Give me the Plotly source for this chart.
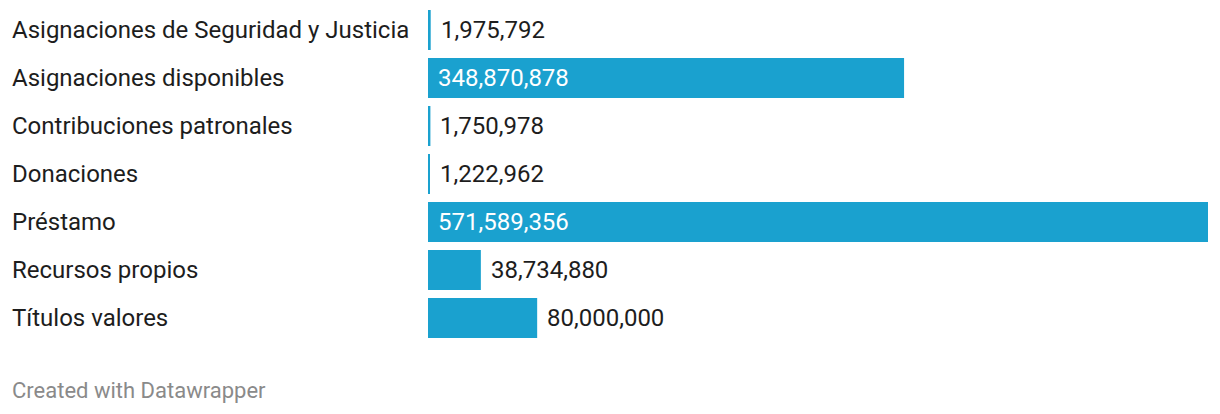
import plotly.graph_objects as go

categories = [
    "Asignaciones de Seguridad y Justicia",
    "Asignaciones disponibles",
    "Contribuciones patronales",
    "Donaciones",
    "Préstamo",
    "Recursos propios",
    "Títulos valores",
]
values = [1975792, 348870878, 1750978, 1222962, 571589356, 38734880, 80000000]

BAR = "#1aa1cf"
TEXT = "#1d1d1d"
FONT = "Roboto"
W, H = 1220, 414
L, R = 428, 12
T, B = 6, H - 342

vmax = max(values)
fig = go.Figure(go.Bar(
    x=values, y=categories, orientation="h",
    marker=dict(color=BAR, line=dict(width=0)),
    hoverinfo="skip",
))

ann = []
plot_w = W - L - R
for c, v in zip(categories, values):
    ann.append(dict(x=(10 - L) / plot_w, xref="paper", y=c, yref="y",
                    text=c, showarrow=False, xanchor="left",
                    font=dict(family=FONT, size=24, color=TEXT)))
    lbl = f"{v:,}"
    if v / vmax > 0.3:
        ann.append(dict(x=0, y=c, text=lbl, showarrow=False, xanchor="left",
                        xshift=8, font=dict(family=FONT, size=24, color="white")))
    else:
        ann.append(dict(x=v, y=c, text=lbl, showarrow=False, xanchor="left",
                        xshift=8, font=dict(family=FONT, size=24, color=TEXT)))

ann.append(dict(x=(10 - L) / plot_w, xref="paper", y=-(390 - 342) / (342 - T), yref="paper",
                text="Created with Datawrapper", showarrow=False, xanchor="left",
                yanchor="middle", font=dict(family=FONT, size=22, color="#8a8a8a")))

fig.update_layout(
    width=W, height=H,
    margin=dict(l=L, r=R, t=T, b=B),
    paper_bgcolor="white", plot_bgcolor="white",
    bargap=8 / 48,
    showlegend=False,
    xaxis=dict(range=[0, vmax], visible=False, fixedrange=True),
    yaxis=dict(autorange="reversed", visible=False, fixedrange=True),
    annotations=ann,
)

fig.write_html("out.html", config={"displayModeBar": False},
               post_script="document.body.style.margin='0';document.body.style.overflow='hidden';")
